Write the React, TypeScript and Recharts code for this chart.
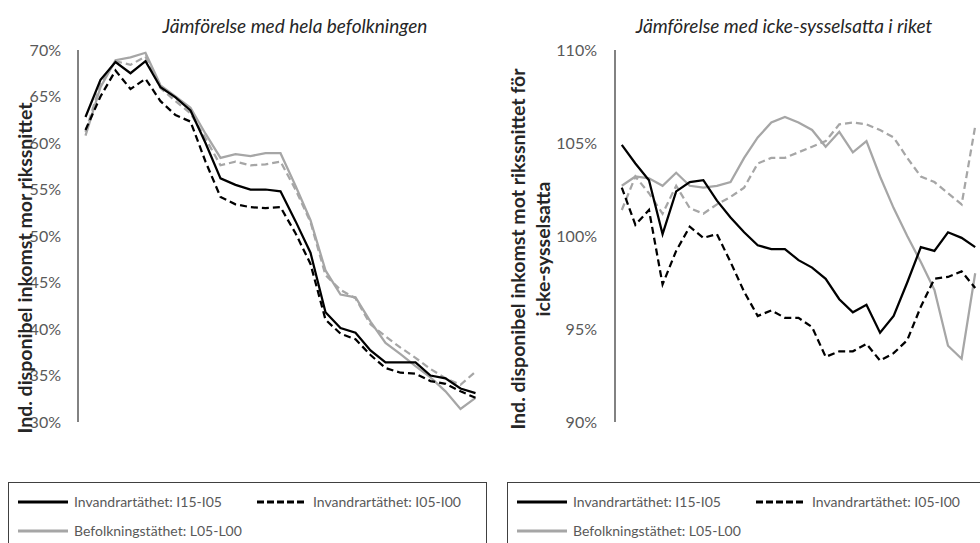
import React from "react";
import { LineChart, Line, XAxis, YAxis } from "recharts";

// 27 kategorier (ingen etikett på x-axeln)
const categories = Array.from({ length: 27 }, (_, i) => `k${i + 1}`);

// Vänster: jämförelse med hela befolkningen (procent)
const leftI15I05 = [62.8, 66.8, 68.7, 67.5, 68.8, 66.0, 64.9, 63.5, 60.0, 56.2, 55.5, 55.0, 55.0, 54.8, 51.6, 48.2, 41.8, 40.1, 39.6, 37.7, 36.4, 36.4, 36.4, 35.0, 34.7, 33.6, 33.1];
const leftI05I00 = [61.4, 65.0, 67.8, 65.8, 66.9, 64.5, 63.0, 62.3, 58.0, 54.2, 53.4, 53.1, 53.0, 53.1, 50.3, 47.0, 41.0, 39.5, 38.9, 37.2, 35.8, 35.3, 35.2, 34.4, 34.1, 33.3, 32.6];
const leftL05L00 = [60.8, 66.0, 68.9, 69.2, 69.7, 66.2, 65.0, 63.8, 61.0, 58.4, 58.8, 58.6, 58.9, 58.9, 55.4, 51.7, 46.3, 43.7, 43.4, 40.8, 38.5, 37.3, 36.0, 34.8, 33.3, 31.4, 32.6];
const leftL15L05 = [61.2, 66.3, 68.8, 68.4, 69.3, 65.9, 64.5, 63.2, 60.5, 57.6, 58.0, 57.6, 57.7, 58.0, 55.0, 51.5, 45.8, 44.2, 43.3, 40.5, 39.2, 38.0, 36.9, 35.7, 34.7, 34.0, 35.4];

// Höger: jämförelse med icke-sysselsatta i riket (procent)
const rightI15I05 = [104.9, 103.9, 103.0, 100.1, 102.4, 102.9, 103.0, 101.9, 101.0, 100.2, 99.5, 99.3, 99.3, 98.7, 98.3, 97.7, 96.6, 95.9, 96.3, 94.8, 95.7, 97.5, 99.4, 99.2, 100.2, 99.9, 99.4];
const rightI05I00 = [102.6, 100.6, 101.4, 97.4, 99.2, 100.5, 99.9, 100.1, 98.6, 97.0, 95.7, 96.0, 95.6, 95.6, 95.1, 93.5, 93.8, 93.8, 94.2, 93.3, 93.7, 94.4, 96.2, 97.7, 97.8, 98.1, 97.2];
const rightL05L00 = [102.7, 103.2, 103.1, 102.7, 103.4, 102.7, 102.6, 102.7, 102.9, 104.2, 105.3, 106.1, 106.4, 106.1, 105.7, 104.8, 105.6, 104.5, 105.1, 103.2, 101.5, 100.0, 98.6, 97.1, 94.1, 93.4, 98.0];
const rightL15L05 = [101.4, 103.2, 102.3, 101.2, 102.7, 101.5, 101.2, 101.7, 102.1, 102.6, 103.9, 104.2, 104.2, 104.5, 104.8, 105.1, 106.0, 106.1, 106.0, 105.7, 105.3, 104.2, 103.2, 102.9, 102.3, 101.7, 105.9];

const leftTicks = [30, 35, 40, 45, 50, 55, 60, 65, 70];
const rightTicks = [90, 95, 100, 105, 110];

const seriesNames = [
  "Invandrartäthet: I15-I05",
  "Invandrartäthet: I05-I00",
  "Befolkningstäthet: L05-L00",
];

const FONT = "Lato, 'Open Sans', sans-serif";
const AXIS = "#595959";
const GRAY = "#a6a6a6";

const build = (a: number[], b: number[], c: number[], d: number[]) =>
  categories.map((cat, i) => ({ cat, a: a[i], b: b[i], c: c[i], d: d[i] }));

const leftData = build(leftI15I05, leftI05I00, leftL05L00, leftL15L05);
const rightData = build(rightI15I05, rightI05I00, rightL05L00, rightL15L05);

const lines = [
  <Line key="c" dataKey="c" stroke={GRAY} strokeWidth={2.25} dot={false} isAnimationActive={false} />,
  <Line key="d" dataKey="d" stroke={GRAY} strokeWidth={2.25} strokeDasharray="7 4" dot={false} isAnimationActive={false} />,
  <Line key="b" dataKey="b" stroke="#000" strokeWidth={2.25} strokeDasharray="7 4" dot={false} isAnimationActive={false} />,
  <Line key="a" dataKey="a" stroke="#000" strokeWidth={2.25} dot={false} isAnimationActive={false} />,
];

const LegendBox = ({ left }: { left: number }) => {
  const sample = (dash: boolean, color: string) => (
    <svg width={50} height={6} style={{ marginRight: 6 }}>
      <line x1={0} y1={3} x2={50} y2={3} stroke={color} strokeWidth={3} strokeDasharray={dash ? "7 3" : undefined} />
    </svg>
  );
  const item = (name: string, dash: boolean, color: string, x: number, y: number) => (
    <div style={{ position: "absolute", left: x, top: y, display: "flex", alignItems: "center", whiteSpace: "nowrap" }}>
      {sample(dash, color)}
      <span>{name}</span>
    </div>
  );
  return (
    <div
      style={{
        position: "absolute",
        left,
        top: 482,
        width: 477,
        height: 80,
        border: "1px solid #404040",
        background: "#fff",
        fontSize: 14,
        color: AXIS,
      }}
    >
      {item(seriesNames[0], false, "#000", 9, 10)}
      {item(seriesNames[1], true, "#000", 248, 10)}
      {item(seriesNames[2], false, GRAY, 9, 39)}
    </div>
  );
};

const App: React.FC = () => {
  const tick = { fill: AXIS, fontSize: 16, fontFamily: FONT };
  return (
    <div
      style={{
        position: "fixed",
        left: 0,
        top: 0,
        width: 980,
        height: 543,
        overflow: "hidden",
        background: "#fff",
        fontFamily: FONT,
      }}
    >
      {/* Vänster panel */}
      <div style={{ position: "absolute", left: 0, top: 0 }}>
        <LineChart width={490} height={440} data={leftData} margin={{ top: 50, right: 7, left: 0, bottom: 18 }}>
          <XAxis dataKey="cat" tick={false} tickLine={false} height={0} axisLine={{ stroke: AXIS, strokeWidth: 1.5 }} padding={{ left: 7.5, right: 7.5 }} />
          <YAxis
            width={78}
            domain={[30, 70]}
            ticks={leftTicks}
            interval={0}
            tickLine={false}
            tickMargin={11}
            axisLine={{ stroke: AXIS, strokeWidth: 1.5 }}
            tick={tick}
            tickFormatter={(v: number) => `${v}%`}
          />
          {lines}
        </LineChart>
      </div>
      <div style={{ position: "absolute", left: 0, width: 590, top: 14, textAlign: "center", fontStyle: "italic", fontSize: 19, color: "#262626" }}>
        Jämförelse med hela befolkningen
      </div>
      <div
        style={{
          position: "absolute",
          left: 24,
          top: 268,
          transform: "translate(-50%, -50%) rotate(-90deg)",
          whiteSpace: "nowrap",
          fontWeight: 700,
          fontSize: 19.5,
          color: "#262626",
        }}
      >
        Ind. disponibel inkomst mor rikssnittet
      </div>

      {/* Höger panel */}
      <div style={{ position: "absolute", left: 490, top: 0 }}>
        <LineChart width={500} height={440} data={rightData} margin={{ top: 50, right: 8, left: 0, bottom: 18 }}>
          <XAxis dataKey="cat" tick={false} tickLine={false} height={0} axisLine={{ stroke: AXIS, strokeWidth: 1.5 }} padding={{ left: 6.8, right: 6.8 }} />
          <YAxis
            width={125}
            domain={[90, 110]}
            ticks={rightTicks}
            interval={0}
            tickLine={false}
            tickMargin={12}
            axisLine={{ stroke: AXIS, strokeWidth: 1.5 }}
            tick={tick}
            tickFormatter={(v: number) => `${v}%`}
          />
          {lines}
        </LineChart>
      </div>
      <div style={{ position: "absolute", left: 584, width: 400, top: 14, textAlign: "center", fontStyle: "italic", fontSize: 19, color: "#262626" }}>
        Jämförelse med icke-sysselsatta i riket
      </div>
      <div
        style={{
          position: "absolute",
          left: 530,
          top: 249,
          transform: "translate(-50%, -50%) rotate(-90deg)",
          whiteSpace: "nowrap",
          fontWeight: 700,
          fontSize: 19.5,
          color: "#262626",
          textAlign: "center",
          lineHeight: "25px",
        }}
      >
        Ind. disponibel inkomst mot rikssnittet för
        <br />
        icke-sysselsatta
      </div>

      <LegendBox left={8} />
      <LegendBox left={507} />
    </div>
  );
};

export default App;
